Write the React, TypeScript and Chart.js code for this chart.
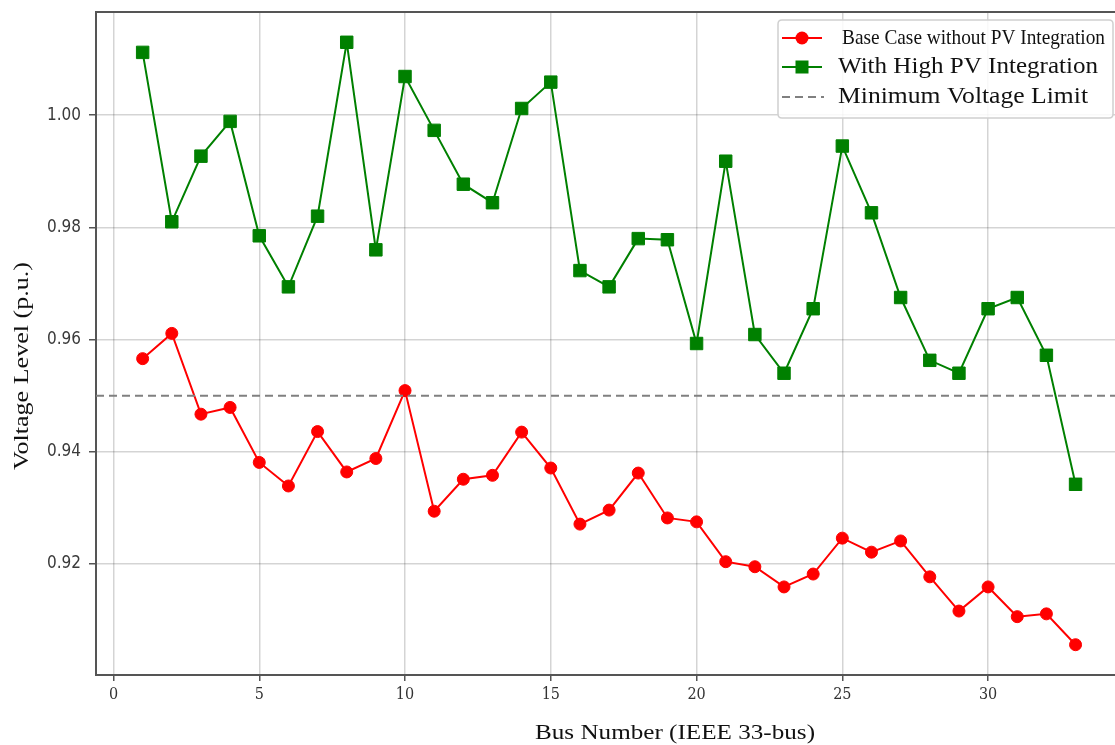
import { useEffect, useRef } from 'react';
import { Chart, registerables } from 'chart.js';

Chart.register(...registerables);

// ---- data ----
const BUS = [1, 2, 3, 4, 5, 6, 7, 8, 9, 10, 11, 12, 13, 14, 15, 16, 17, 18, 19, 20, 21, 22, 23, 24, 25, 26, 27, 28, 29, 30, 31, 32, 33];
const BASE_CASE = [0.9566, 0.9611, 0.9467, 0.9479, 0.9381, 0.9339, 0.9436, 0.9364, 0.9388, 0.9509, 0.9294, 0.9351, 0.9358, 0.9435, 0.9371, 0.9271, 0.9296, 0.9362, 0.9282, 0.9275, 0.9204, 0.9195, 0.9159, 0.9182, 0.9246, 0.9221, 0.9241, 0.9177, 0.9116, 0.9159, 0.9106, 0.9111, 0.9056];
const HIGH_PV = [1.0112, 0.981, 0.9927, 0.9989, 0.9785, 0.9694, 0.982, 1.013, 0.976, 1.0069, 0.9973, 0.9877, 0.9844, 1.0012, 1.0059, 0.9723, 0.9694, 0.978, 0.9778, 0.9593, 0.9918, 0.9609, 0.954, 0.9655, 0.9945, 0.9826, 0.9675, 0.9563, 0.954, 0.9655, 0.9675, 0.9572, 0.9342];
const V_LIMIT = 0.95;
const X_TICKS = [0, 5, 10, 15, 20, 25, 30];
const Y_TICKS = [0.92, 0.94, 0.96, 0.98, 1.0];
const X_MIN = -0.6;
const X_MAX = 34.6;
const Y_MIN = 0.9002;
const Y_MAX = 1.0184;
const SERIES_LABELS = ['Base Case without PV Integration', 'With High PV Integration', 'Minimum Voltage Limit'];
const X_TITLE = 'Bus Number (IEEE 33-bus)';
const Y_TITLE = 'Voltage Level (p.u.)';

const SERIF = '"Liberation Serif", "Times New Roman", serif';
const RED = '#ff0000';
const GREEN = '#008000';
const GRAY = '#808080';
const SPINE = '#555555';

function fitText(ctx: CanvasRenderingContext2D, text: string, x: number, y: number, width: number, font: string, align: 'left' | 'center') {
  ctx.save();
  ctx.font = font;
  const w = ctx.measureText(text).width;
  const s = width / w;
  ctx.translate(x, y);
  ctx.scale(s, 1);
  ctx.textAlign = align;
  ctx.textBaseline = 'middle';
  ctx.fillStyle = '#111';
  ctx.fillText(text, 0, 0);
  ctx.restore();
}

const decorPlugin = {
  id: 'decor',
  afterDraw(chart: any) {
    const ctx: CanvasRenderingContext2D = chart.ctx;
    const a = chart.chartArea;
    // top spine
    ctx.save();
    ctx.strokeStyle = SPINE;
    ctx.lineWidth = 2;
    ctx.beginPath();
    ctx.moveTo(a.left - 1, a.top);
    ctx.lineTo(a.right, a.top);
    ctx.stroke();
    ctx.restore();

    // axis titles
    fitText(ctx, X_TITLE, 675, 733, 280, `22px ${SERIF}`, 'center');
    ctx.save();
    ctx.translate(22, 366);
    ctx.rotate(-Math.PI / 2);
    fitText(ctx, Y_TITLE, 0, 0, 208, `22px ${SERIF}`, 'center');
    ctx.restore();

    // legend box
    const bx = 778, by = 20, bw = 335, bh = 98, r = 4;
    ctx.save();
    ctx.beginPath();
    ctx.moveTo(bx + r, by);
    ctx.lineTo(bx + bw - r, by);
    ctx.quadraticCurveTo(bx + bw, by, bx + bw, by + r);
    ctx.lineTo(bx + bw, by + bh - r);
    ctx.quadraticCurveTo(bx + bw, by + bh, bx + bw - r, by + bh);
    ctx.lineTo(bx + r, by + bh);
    ctx.quadraticCurveTo(bx, by + bh, bx, by + bh - r);
    ctx.lineTo(bx, by + r);
    ctx.quadraticCurveTo(bx, by, bx + r, by);
    ctx.closePath();
    ctx.fillStyle = 'rgba(255,255,255,0.85)';
    ctx.fill();
    ctx.strokeStyle = '#d0d0d0';
    ctx.lineWidth = 1.5;
    ctx.stroke();
    ctx.restore();

    const rows = [38, 67, 97];
    const x0 = 782, x1 = 822, xm = 802;
    ctx.save();
    ctx.strokeStyle = RED; ctx.lineWidth = 2;
    ctx.beginPath(); ctx.moveTo(x0, rows[0]); ctx.lineTo(x1, rows[0]); ctx.stroke();
    ctx.fillStyle = RED;
    ctx.beginPath(); ctx.arc(xm, rows[0], 6.5, 0, Math.PI * 2); ctx.fill();
    ctx.strokeStyle = GREEN;
    ctx.beginPath(); ctx.moveTo(x0, rows[1]); ctx.lineTo(x1, rows[1]); ctx.stroke();
    ctx.fillStyle = GREEN;
    ctx.fillRect(xm - 6.5, rows[1] - 6.5, 13, 13);
    ctx.strokeStyle = GRAY;
    ctx.setLineDash([8, 5]);
    ctx.beginPath(); ctx.moveTo(x0, rows[2]); ctx.lineTo(x1 + 2, rows[2]); ctx.stroke();
    ctx.restore();

    fitText(ctx, SERIES_LABELS[0], 842, rows[0], 263, `21px ${SERIF}`, 'left');
    fitText(ctx, SERIES_LABELS[1], 838, rows[1], 260, `24px ${SERIF}`, 'left');
    fitText(ctx, SERIES_LABELS[2], 838, rows[2], 250, `24px ${SERIF}`, 'left');
  },
};

export default function App() {
  const ref = useRef<HTMLCanvasElement | null>(null);

  useEffect(() => {
    if (!ref.current) return;
    const chart = new Chart(ref.current, {
      type: 'line',
      data: {
        datasets: [
          {
            label: SERIES_LABELS[2],
            data: [{ x: X_MIN, y: V_LIMIT }, { x: X_MAX, y: V_LIMIT }],
            borderColor: GRAY,
            borderWidth: 2,
            borderDash: [8, 5],
            pointRadius: 0,
            order: 0,
          },
          {
            label: SERIES_LABELS[1],
            data: BUS.map((b, i) => ({ x: b, y: HIGH_PV[i] })),
            borderColor: GREEN,
            backgroundColor: GREEN,
            borderWidth: 2,
            pointStyle: 'rect',
            pointRadius: 8.8,
            pointBorderWidth: 1,
            pointBorderColor: GREEN,
            pointBackgroundColor: GREEN,
            order: 1,
          },
          {
            label: SERIES_LABELS[0],
            data: BUS.map((b, i) => ({ x: b, y: BASE_CASE[i] })),
            borderColor: RED,
            backgroundColor: RED,
            borderWidth: 2,
            pointStyle: 'circle',
            pointRadius: 6,
            pointBorderWidth: 1,
            pointBorderColor: RED,
            pointBackgroundColor: RED,
            order: 2,
          },
        ],
      },
      options: {
        animation: false,
        responsive: false,
        devicePixelRatio: 1,
        layout: { padding: { top: 12, right: 2, left: 0, bottom: 0 } },
        plugins: {
          legend: { display: false },
          tooltip: { enabled: false },
          title: { display: false },
        },
        scales: {
          x: {
            type: 'linear',
            min: X_MIN,
            max: X_MAX,
            afterBuildTicks: (s: any) => { s.ticks = X_TICKS.map((v) => ({ value: v })); },
            afterFit: (s: any) => { s.height = 70; s.paddingLeft = 0; s.paddingRight = 0; s.paddingTop = 0; s.paddingBottom = 0; },
            grid: {
              color: 'rgba(0,0,0,0.17)',
              lineWidth: 1.5,
              drawTicks: true,
              tickLength: 6,
              tickColor: SPINE,
              tickWidth: 1.5,
            },
            border: { color: SPINE, width: 2 },
            ticks: {
              color: '#333',
              font: { family: '"DejaVu Serif Condensed", "DejaVu Serif", serif', size: 16 },
              padding: 4,
              maxRotation: 0,
              autoSkip: false,
            },
          },
          y: {
            type: 'linear',
            min: Y_MIN,
            max: Y_MAX,
            afterBuildTicks: (s: any) => { s.ticks = Y_TICKS.map((v) => ({ value: v })); },
            afterFit: (s: any) => { s.width = 96; s.paddingLeft = 0; s.paddingRight = 0; s.paddingTop = 0; s.paddingBottom = 0; },
            grid: {
              color: 'rgba(0,0,0,0.17)',
              lineWidth: 1.5,
              drawTicks: true,
              tickLength: 7,
              tickColor: SPINE,
              tickWidth: 1.5,
            },
            border: { color: SPINE, width: 2 },
            ticks: {
              color: '#3a3a3a',
              font: { family: '"DejaVu Sans Condensed", "Liberation Sans Narrow", "DejaVu Sans", sans-serif', size: 17 },
              padding: 8,
              autoSkip: false,
              callback: (v: any) => Number(v).toFixed(2),
            },
          },
        },
      },
      plugins: [decorPlugin],
    } as any);
    return () => chart.destroy();
  }, []);

  return (
    <div style={{ position: 'fixed', left: 0, top: 0, width: 1115, height: 745, overflow: 'hidden', background: '#fff' }}>
      <canvas ref={ref} width={1132} height={745} style={{ display: 'block' }} />
    </div>
  );
}
